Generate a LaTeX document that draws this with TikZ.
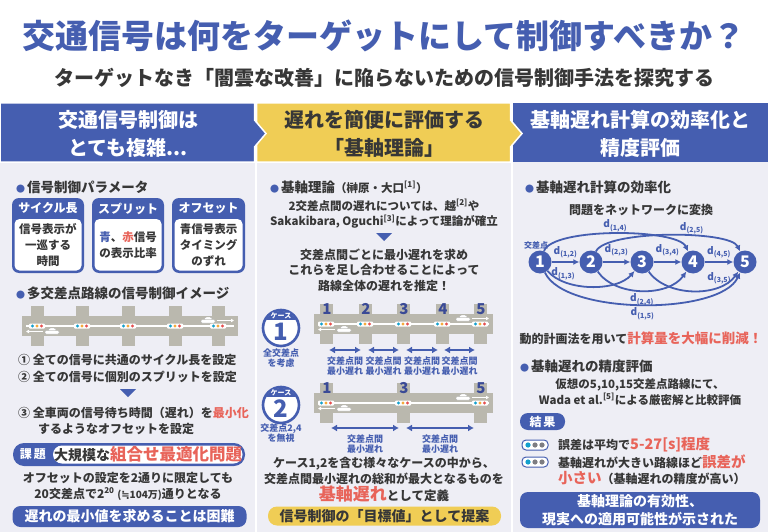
\documentclass[tikz,border=0pt]{standalone}
\usepackage{fontspec}
\setmainfont{Noto Sans CJK JP}
\newfontfamily\dvsym{DejaVu Sans}
\usetikzlibrary{arrows.meta,positioning}
\definecolor{mainblue}{RGB}{69,94,176}
\definecolor{navyink}{RGB}{58,74,150}
\definecolor{goldbar}{RGB}{240,205,85}
\definecolor{hotred}{RGB}{232,100,90}
\definecolor{panelbg}{RGB}{238,238,245}
\definecolor{inktext}{RGB}{55,55,55}
\definecolor{roadgray}{RGB}{186,184,174}
\definecolor{sigcyan}{RGB}{20,160,205}
\definecolor{sigorange}{RGB}{245,170,60}
\definecolor{sigred}{RGB}{230,80,80}
\definecolor{dotgray}{RGB}{125,125,130}
\newcommand{\hotword}[1]{\textcolor{hotred}{#1}}
\newcommand{\bul}{\textcolor{mainblue}{\fontsize{9}{9}\selectfont ●}\hspace{2pt}}
\newcommand{\carshape}[2]{%
  \filldraw[fill=white, draw=gray!60, line width=0.4pt, rounded corners=1.2pt] (#1-7,#2-2.5) rectangle (#1+7,#2+1);
  \filldraw[fill=white, draw=gray!60, line width=0.4pt, rounded corners=1pt] (#1-4,#2+1) -- (#1-2.5,#2+3.5) -- (#1+3,#2+3.5) -- (#1+4.5,#2+1) -- cycle;
}
\newcommand{\roadstrip}[4]{%
  \fill[roadgray] (#1,#3+10) rectangle (#2,#3-10);
  \foreach \sx in {#4}{\fill[roadgray] (\sx-6.5,#3+20) rectangle (\sx+6.5,#3-20);}
  \draw[white, line width=1.2pt] (#1+4,#3) -- (#2-4,#3);
  \foreach \sx in {#4}{%
    \fill[white, rounded corners=1pt] (\sx-8,#3+2.5) rectangle (\sx+8,#3-2.5);
    \fill[sigcyan] (\sx-4.5,#3) circle (1.6);
    \fill[sigorange] (\sx,#3) circle (1.6);
    \fill[sigred] (\sx+4.5,#3) circle (1.6);}
  \carshape{#2-30}{#3+5.5}
  \draw[white, line width=1.5pt, -{Latex[length=3pt,width=4pt]}] (#2-21,#3+5.5) -- (#2-4,#3+5.5);
  \carshape{#1+30}{#3-5.5}
  \draw[white, line width=1.5pt, -{Latex[length=3pt,width=4pt]}] (#1+21,#3-5.5) -- (#1+4,#3-5.5);
}
\tikzset{
  fs/.style 2 args={font=\bfseries\fontsize{#1}{#2}\selectfont},
  plain/.style={inner sep=0pt, text=inktext, align=center},
  headtxt/.style={plain, fs={20}{28}},
  bullethead/.style={plain, fs={13.5}{14}, anchor=west},
  bodytxt/.style={plain, fs={12}{16}},
  boxtitle/.style={plain, fs={12}{12}, text=white},
  boxbody/.style={plain, fs={11.5}{16}},
  bluetag/.style={plain, fs={9}{10.5}, text=mainblue},
  bluebox/.style={fill=mainblue, rounded corners=8pt, text=white, fs={14}{18}, align=center, inner sep=0pt},
  netnode/.style={circle, fill=mainblue, text=white, fs={16}{16}, minimum size=23pt, inner sep=0pt},
  netedge/.style={-{Latex[length=6pt,width=6pt]}, mainblue, line width=1.8pt},
  dlab/.style={text=mainblue, fs={10}{10}, inner sep=1pt},
  twoway/.style={{Latex[length=6pt,width=7pt]}-{Latex[length=6pt,width=7pt]}, mainblue, line width=2.4pt},
  roadnum/.style={plain, fs={15}{15}, text=navyink},
}
\begin{document}
\begin{tikzpicture}[x=1pt,y=1pt]
\useasboundingbox (0,0) rectangle (768,-532);
\fill[white] (0,0) rectangle (768,-532);

\node[plain, fs={33}{33}, text=mainblue] (title) at (384,-36) {交通信号は何をターゲットにして制御すべきか？};
\node[plain, fs={20}{20}] (subtitle) at (384,-78) {ターゲットなき「闇雲な改善」に陥らないための信号制御手法を探究する};

\fill[panelbg] (0,-162) rectangle (254.5,-532);
\fill[panelbg] (256.5,-162) rectangle (510.5,-532);
\fill[panelbg] (512.5,-162) rectangle (768,-532);
\fill[mainblue] (512.5,-103) rectangle (768,-162);
\filldraw[fill=goldbar, draw=white, line width=1.5pt] (256.5,-103) -- (510.5,-103) -- (510.5,-120) -- (522,-133.5) -- (510.5,-147) -- (510.5,-162) -- (256.5,-162) -- cycle;
\filldraw[fill=mainblue, draw=white, line width=1.5pt] (0,-103) -- (254.5,-103) -- (254.5,-120) -- (266,-133.5) -- (254.5,-147) -- (254.5,-162) -- (0,-162) -- cycle;
\node[headtxt, text=white] (headleft) at (128,-134) {交通信号制御は\\とても複雑...};
\node[headtxt] (headmid) at (384,-134) {遅れを簡便に評価する\\「基軸理論」};
\node[headtxt, text=white] (headright) at (640,-134) {基軸遅れ計算の効率化と\\精度評価};

% left panel
\node[bullethead] (paramhead) at (16,-187) {\bul 信号制御パラメータ};
\fill[mainblue, rounded corners=7pt] (12,-198) rectangle (84,-273);
\fill[white, rounded corners=5pt] (14.5,-219) rectangle (81.5,-270.5);
\fill[mainblue, rounded corners=7pt] (92,-198) rectangle (164,-273);
\fill[white, rounded corners=5pt] (94.5,-219) rectangle (161.5,-270.5);
\fill[mainblue, rounded corners=7pt] (172,-198) rectangle (245,-273);
\fill[white, rounded corners=5pt] (174.5,-219) rectangle (242.5,-270.5);
\node[boxtitle] (cyclehead) at (48,-208.5) {サイクル長};
\node[boxtitle] (splithead) at (128,-208.5) {スプリット};
\node[boxtitle] (offsethead) at (208.5,-208.5) {オフセット};
\node[boxbody] (cyclebody) at (48,-245) {信号表示が\\一巡する\\時間};
\node[boxbody] (splitbody) at (128,-245) {\textcolor{mainblue}{青}、\hotword{赤}信号\\の表示比率};
\node[boxbody] (offsetbody) at (208.5,-245) {青信号表示\\タイミング\\のずれ};

\node[bullethead] (imagehead) at (16,-293) {\bul 多交差点路線の信号制御イメージ};
\roadstrip{22}{238}{-326}{37,82,128,175,218}
\node[bodytxt, anchor=west] (stepone) at (18,-360) {① 全ての信号に共通のサイクル長を設定};
\node[bodytxt, anchor=west] (steptwo) at (18,-377) {② 全ての信号に個別のスプリットを設定};
\fill[mainblue] (120,-389) -- (136,-389) -- (128,-397) -- cycle;
\node[bodytxt, anchor=west] (stepthree) at (18,-413) {③ 全車両の信号待ち時間（遅れ）を\hotword{最小化}};
\node[bodytxt, anchor=west] (stepthreeb) at (38,-429) {するようなオフセットを設定};

\fill[mainblue, rounded corners=11pt] (13,-443) rectangle (245,-466);
\fill[white, rounded corners=9pt] (53,-445.5) rectangle (242.5,-463.5);
\node[boxtitle] (issuetag) at (33,-454.5) {課\,題};
\node[plain, fs={14}{14}] (issue) at (148,-454.5) {大規模な\hotword{\fontsize{16.5}{16.5}\selectfont 組合せ最適化問題}};
\node[bodytxt] (count) at (128,-486) {オフセットの設定を2通りに限定しても\\20交差点で2\textsuperscript{20} {\fontsize{10}{10}\selectfont ({\dvsym ≒}104万)}通りとなる};
\node[bluebox, minimum width=234pt, minimum height=21pt] (hard) at (129.5,-516.5) {遅れの最小値を求めることは困難};

% middle panel
\node[bullethead] (theoryhead) at (270,-187) {\bul 基軸理論{\fontsize{11.5}{12}\selectfont （榊原・大口\textsuperscript{[1]}）}};
\node[plain, fs={11.5}{15.5}] (history) at (384,-214) {2交差点間の遅れについては、越\textsuperscript{[2]}や\\Sakakibara, Oguchi\textsuperscript{[3]}によって理論が確立};
\fill[mainblue] (376,-233) -- (392,-233) -- (384,-241) -- cycle;
\node[plain, fs={12}{15.5}] (estimate) at (384,-270) {交差点間ごとに最小遅れを求め\\これらを足し合わせることによって\\路線全体の遅れを推定！};

\roadstrip{314}{493}{-324}{326,365,403,442,480}
\roadstrip{314}{493}{-403}{326,403,480}
\foreach \i/\sx in {1/326,2/365,3/403,4/442,5/480}
  \node[roadnum] (numa\i) at (\sx+1,-309) {\i};
\foreach \i/\sx in {1/326,3/403,5/480}
  \node[roadnum] (numb\i) at (\sx+1,-388) {\i};

\foreach \i/\cy in {1/-328,2/-405}{
  \fill[white] (281,\cy) circle (17);
  \begin{scope}
    \clip (281,\cy) circle (17);
    \fill[mainblue] (260,\cy+20) rectangle (302,\cy+8);
  \end{scope}
  \node[circle, draw=mainblue, line width=2.6pt, minimum size=36pt, inner sep=0pt] (case\i) at (281,\cy) {};
  \node[plain, fs={7}{7}, text=white] (casetag\i) at (281,\cy+12) {ケース};
  \node[plain, fs={24}{24}, text=mainblue] (casenum\i) at (281,\cy-4) {\i};
}
\node[bluetag] (casenote1) at (281,-358) {全交差点\\を考慮};
\node[bluetag] (casenote2) at (281,-433) {交差点2,4\\を無視};

\foreach \i/\xa/\xb in {1/329/361,2/368/399,3/406/438,4/444/475}{
  \coordinate (pa\i) at (\xa,-350);
  \coordinate (pb\i) at (\xb,-350);
  \draw[twoway] (pa\i) -- (pb\i);
  \node[bluetag] (pl\i) at ({(\xa+\xb)/2},-366) {交差点間\\最小遅れ};
}
\foreach \i/\xa/\xb in {1/331/399,2/406/474}{
  \coordinate (qa\i) at (\xa,-428);
  \coordinate (qb\i) at (\xb,-428);
  \draw[twoway] (qa\i) -- (qb\i);
  \node[bluetag] (ql\i) at ({(\xa+\xb)/2},-444) {交差点間\\最小遅れ};
}

\node[plain, fs={12}{16}] (cases) at (384,-471) {ケース1,2を含む様々なケースの中から、\\交差点間最小遅れの総和が最大となるものを};
\node[plain, fs={12.5}{12.5}] (define) at (384,-494) {\hotword{\fontsize{17}{17}\selectfont 基軸遅れ}として定義};
\node[fill=goldbar, rounded corners=9pt, minimum width=233pt, minimum height=19pt, plain, fs={14}{14}] (target) at (384.5,-516) {信号制御の「目標値」として提案};

% right panel
\node[bullethead] (effhead) at (525,-187) {\bul 基軸遅れ計算の効率化};
\node[plain, fs={12}{12}] (convert) at (641,-210) {問題をネットワークに変換};
\foreach \i/\x in {1/540,2/591,3/642,4/693,5/745}
  \node[netnode] (n\i) at (\x,-262) {\i};
\node[bluetag, fs={8}{8}, above=1pt of n1, xshift=-4pt] (crossing) {交差点};
\draw[netedge] (n1) -- node[dlab, above=2pt] {d\textsubscript{(1,2)}} (n2);
\draw[netedge] (n2) -- node[dlab, above=4pt] {d\textsubscript{(2,3)}} (n3);
\draw[netedge] (n3) -- node[dlab, above=4pt] {d\textsubscript{(3,4)}} (n4);
\draw[netedge] (n4) -- node[dlab, above=2pt] {d\textsubscript{(4,5)}} (n5);
\draw[netedge] (n1) to[out=70,in=115,looseness=0.45] node[dlab, pos=0.5, above] {d\textsubscript{(1,4)}} (n4);
\draw[netedge] (n2) to[out=65,in=115,looseness=0.42] node[dlab, pos=0.62, above] {d\textsubscript{(2,5)}} (n5);
\draw[netedge] (n1) to[out=-50,in=-130,looseness=0.8] node[dlab, pos=0.22, above] {d\textsubscript{(1,3)}} (n3);
\draw[netedge] (n2) to[out=-55,in=-125,looseness=0.9] node[dlab, pos=0.5, below=1pt] {d\textsubscript{(2,4)}} (n4);
\draw[netedge] (n3) to[out=-55,in=-125,looseness=0.9] node[dlab, pos=0.75, above] {d\textsubscript{(3,5)}} (n5);
\draw[netedge] (n1) to[out=-65,in=-115,looseness=0.62] node[dlab, pos=0.5, below=1pt] {d\textsubscript{(1,5)}} (n5);
\node[plain, fs={12}{12}] (dp) at (641,-338) {動的計画法を用いて\hotword{\fontsize{13.5}{13.5}\selectfont 計算量を大幅に削減！}};

\node[bullethead] (acchead) at (520,-366) {\bul 基軸遅れの精度評価};
\node[plain, fs={11.5}{15.5}] (compare) at (640,-392) {仮想の5,10,15交差点路線にて、\\Wada et al.\textsuperscript{[5]}による厳密解と比較評価};
\node[fill=mainblue, rounded corners=8pt, minimum width=45pt, minimum height=17pt, plain, text=white, fs={12}{12}] (result) at (542.5,-421.5) {結\,果};
\foreach \i/\cy in {1/-445,2/-462}{
  \node[draw=mainblue, line width=1pt, fill=white, rounded corners=4pt, minimum width=26pt, minimum height=10pt, inner sep=0pt] (sig\i) at (535,\cy) {};
  \fill[sigcyan] (528,\cy) circle (2.6);
  \fill[dotgray] (535,\cy) circle (2.6);
  \fill[dotgray] (542,\cy) circle (2.6);
}
\node[plain, fs={12}{12}, anchor=west] (errmean) at (558,-445) {誤差は平均で\hotword{\fontsize{14.5}{14.5}\selectfont 5-27[s]程度}};
\node[plain, fs={12}{12}, anchor=west] (errsmall) at (558,-462) {基軸遅れが大きい路線ほど\hotword{\fontsize{14.5}{14.5}\selectfont 誤差が}};
\node[plain, fs={12}{12}, anchor=west] (errsmallb) at (558,-478) {\hotword{\fontsize{14.5}{14.5}\selectfont 小さい}（基軸遅れの精度が高い）};
\node[bluebox, minimum width=240pt, minimum height=36pt] (valid) at (640,-510) {基軸理論の有効性、\\現実への適用可能性が示された};
\end{tikzpicture}
\end{document}
